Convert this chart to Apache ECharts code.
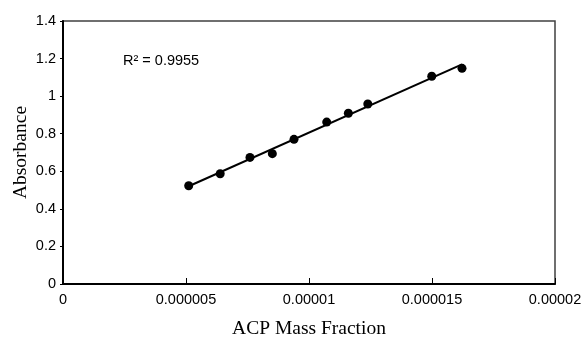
<!DOCTYPE html>
<html>
<head>
<meta charset="utf-8">
<script src="https://cdn.jsdelivr.net/npm/echarts@6/dist/echarts.min.js"></script>
<style>html,body{margin:0;padding:0;background:#fff}#c{width:583px;height:337px}</style>
</head>
<body>
<div id="c"></div>
<script>
var massFraction = [5.11e-6, 6.39e-6, 7.60e-6, 8.51e-6, 9.39e-6, 10.72e-6, 11.60e-6, 12.39e-6, 14.99e-6, 16.22e-6];
var absorbance   = [0.523, 0.587, 0.674, 0.694, 0.770, 0.862, 0.909, 0.958, 1.106, 1.148];
var xTickLabels = ['0', '0.000005', '0.00001', '0.000015', '0.00002'];
var yTickLabels = ['0', '0.2', '0.4', '0.6', '0.8', '1', '1.2', '1.4'];
var rSquaredText = 'R\u00B2 = 0.9955';

// least-squares trendline
var n = massFraction.length, sx = 0, sy = 0, sxx = 0, sxy = 0;
for (var i = 0; i < n; i++) { sx += massFraction[i]; sy += absorbance[i]; sxx += massFraction[i]*massFraction[i]; sxy += massFraction[i]*absorbance[i]; }
var slope = (n*sxy - sx*sy) / (n*sxx - sx*sx);
var intercept = (sy - slope*sx) / n;
var xMin = Math.min.apply(null, massFraction), xMax = Math.max.apply(null, massFraction);
var trend = [[xMin, intercept + slope*xMin], [xMax, intercept + slope*xMax]];

var chart = echarts.init(document.getElementById('c'));
chart.setOption({
  animation: false,
  backgroundColor: '#fff',
  grid: { left: 63, right: 28, top: 21, bottom: 53, containLabel: false, outerBoundsMode: 'none',
    show: true, borderColor: '#404040', borderWidth: 1.5, backgroundColor: 'transparent' },
  xAxis: {
    type: 'value', min: 0, max: 0.00002, interval: 0.000005,
    name: 'ACP Mass Fraction', nameLocation: 'middle', nameGap: 35, nameMoveOverlap: false,
    nameTextStyle: { fontFamily: 'Liberation Serif', fontSize: 19.5, color: '#000' },
    axisLine: { lineStyle: { color: '#000', width: 2 } },
    axisTick: { show: true, inside: true, length: 6, lineStyle: { color: '#000', width: 1 } },
    splitLine: { show: false },
    axisLabel: { margin: 8, fontFamily: 'Liberation Sans', fontSize: 14.5, color: '#000',
      formatter: function (v) { return xTickLabels[Math.round(v / 0.000005)]; } }
  },
  yAxis: {
    type: 'value', min: 0, max: 1.4, interval: 0.2,
    name: 'Absorbance', nameLocation: 'middle', nameGap: 32, nameMoveOverlap: false,
    nameTextStyle: { fontFamily: 'Liberation Serif', fontSize: 19.5, color: '#000' },
    axisLine: { show: true, lineStyle: { color: '#000', width: 2 } },
    axisTick: { show: true, inside: false, length: 3, lineStyle: { color: '#000', width: 1 } },
    splitLine: { show: false },
    axisLabel: { margin: 7, fontFamily: 'Liberation Sans', fontSize: 14.5, color: '#000',
      formatter: function (v) { return yTickLabels[Math.round(v / 0.2)]; } }
  },
  graphic: [{
    type: 'text', left: 123, top: 53,
    style: { text: rSquaredText, fontFamily: 'Liberation Sans', fontSize: 14.5, fill: '#000' }
  }],
  series: [
    { type: 'line', data: trend, symbol: 'none', lineStyle: { color: '#000', width: 2 }, z: 2 },
    { type: 'scatter', data: massFraction.map(function (x, i) { return [x, absorbance[i]]; }),
      symbol: 'circle', symbolSize: 9, itemStyle: { color: '#000', opacity: 1 }, z: 3 }
  ]
});
</script>
</body>
</html>
